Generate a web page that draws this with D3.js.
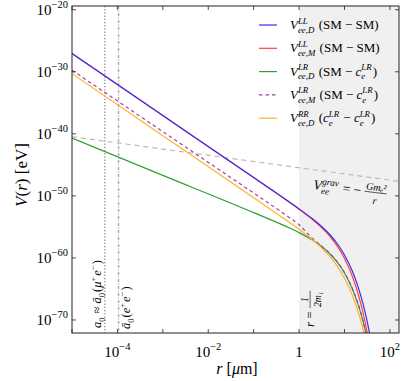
<!DOCTYPE html>
<meta charset="utf-8">
<style>
  body { margin: 0; background: #fff; }
  text { font-family: "Liberation Serif", "Times New Roman", serif; fill: #000; white-space: pre; }
</style>
<svg id="chart" width="407" height="381"></svg>
<script src="https://d3js.org/d3.v7.min.js"></script>
<script>

// r in micrometres, potentials given as log10(V / eV)
var rPts = [1e-5, 1e-3, 1e-1, 0.5, 1, 2, 3, 5, 7, 10, 15, 20, 25, 30, 35, 40]
var vDLL = [-27.05, -37.05, -47.05, -50.56, -52.10, -53.74, -54.82, -56.43, -57.76, -59.52, -62.19, -64.70, -67.13, -69.52, -71.86, -74.19]
var vMLL = [-27.05, -37.05, -47.05, -50.58, -52.16, -53.86, -55.00, -56.71, -58.15, -60.08, -63.03, -65.82, -68.53, -71.21, -73.83, -76.44]
var vDLR = [-40.70, -46.70, -52.70, -54.88, -55.92, -57.16, -58.05, -59.49, -60.73, -62.43, -65.05, -67.53, -69.95, -72.32, -74.66, -76.98]
var vMLR = [-29.75, -39.65, -49.55, -53.05, -54.65, -56.90, -58.00, -59.45, -60.68, -62.38, -65.00, -67.45, -69.88, -72.25, -74.60, -76.92]
var vDRR = [-30.30, -40.30, -50.30, -53.82, -55.39, -57.10, -58.24, -59.97, -61.39, -63.27, -66.08, -68.70, -71.22, -73.68, -76.08, -78.50]

var gravR = [1e-5, 158.5]
var gravV = [-40.46, -47.66]

var xTicks = [1e-5, 1e-4, 1e-3, 1e-2, 1e-1, 1, 10, 100]
var xLabels = [null, ["10", "\u22124"], null, ["10", "\u22122"], null, ["1", ""], null, ["10", "2"]]
var yTicks = [-20, -30, -40, -50, -60, -70]

var a0Mu = 5.3e-5, a0Ee = 1.06e-4, rMass = 1

var mL = 72, mR = 399, mT = 6, mB = 333

var svg = d3.select("#chart")

var x = d3.scaleLog().domain([1e-5, Math.pow(10, 2.2)]).range([mL, mR])
var y = d3.scaleLog().domain([Math.pow(10, -72.1), Math.pow(10, -19.4)]).range([mB, mT])

svg.append("defs").append("clipPath").attr("id", "clip")
  .append("rect").attr("x", mL).attr("y", mT).attr("width", mR - mL).attr("height", mB - mT)

// shaded region r > 1/(2 m1)
svg.append("rect")
  .attr("x", x(rMass)).attr("y", mT)
  .attr("width", mR - x(rMass)).attr("height", mB - mT)
  .attr("fill", "#f0f0f0")

var plot = svg.append("g").attr("clip-path", "url(#clip)")

plot.append("line")
  .attr("x1", x(a0Mu)).attr("x2", x(a0Mu)).attr("y1", mT).attr("y2", mB)
  .attr("stroke", "#333").attr("stroke-width", 0.8).attr("stroke-dasharray", "1.2,2")
plot.append("line")
  .attr("x1", x(a0Ee)).attr("x2", x(a0Ee)).attr("y1", mT).attr("y2", mB)
  .attr("stroke", "#aaa").attr("stroke-width", 1.4).attr("stroke-dasharray", "3,1.5,1,1.5")

var line = d3.line()
  .x(function(d) { return x(d[0]) })
  .y(function(d) { return y(Math.pow(10, d[1])) })
  .curve(d3.curveMonotoneX)

plot.append("path")
  .attr("d", line(d3.zip(gravR, gravV)))
  .attr("fill", "none").attr("stroke", "#bbbbbb").attr("stroke-width", 1.2)
  .attr("stroke-dasharray", "5,4")

var series = [
  {v: vMLL, color: "#ff4040", dash: null},
  {v: vDLL, color: "#3a2cf0", dash: null},
  {v: vDLR, color: "#2ea02e", dash: null},
  {v: vMLR, color: "#a040a8", dash: "3.5,3"},
  {v: vDRR, color: "#ffb22a", dash: null}
]
series.forEach(function(s) {
  plot.append("path")
    .attr("d", line(d3.zip(rPts, s.v)))
    .attr("fill", "none").attr("stroke", s.color).attr("stroke-width", 1.2)
    .attr("stroke-dasharray", s.dash)
})

// small helper for math-like labels: parts are plain runs or stacked sup/sub
function mathText(g, x0, y0, parts, size) {
  var cx = x0
  parts.forEach(function(p) {
    if (p.sup !== undefined || p.sub !== undefined) {
      var w = 0
      if (p.sup) {
        var t1 = g.append("text").attr("x", cx).attr("y", y0 - size * 0.42)
          .style("font-size", (size * 0.68) + "px").style("font-style", p.up ? "normal" : "italic").text(p.sup)
        w = Math.max(w, t1.node().getComputedTextLength())
      }
      if (p.sub) {
        var t2 = g.append("text").attr("x", cx).attr("y", y0 + size * 0.28)
          .style("font-size", (size * 0.68) + "px").style("font-style", p.up ? "normal" : "italic").text(p.sub)
        w = Math.max(w, t2.node().getComputedTextLength())
      }
      cx += w + 1
    } else if (p.frac) {
      var fs = size * 0.75
      var n = g.append("text").attr("y", y0 - size * 0.45).style("font-size", fs + "px")
        .style("font-style", "italic").text(p.frac[0])
      var dd = g.append("text").attr("y", y0 + size * 0.55).style("font-size", fs + "px")
        .style("font-style", "italic").text(p.frac[1])
      var wn = n.node().getComputedTextLength(), wd = dd.node().getComputedTextLength()
      var fw = Math.max(wn, wd) + 2
      n.attr("x", cx + (fw - wn) / 2)
      dd.attr("x", cx + (fw - wd) / 2)
      g.append("line").attr("x1", cx).attr("x2", cx + fw)
        .attr("y1", y0 - size * 0.3).attr("y2", y0 - size * 0.3)
        .attr("stroke", "#000").attr("stroke-width", 0.6)
      cx += fw + 1
    } else {
      var t = g.append("text").attr("x", cx).attr("y", y0)
        .style("font-size", size + "px").style("font-style", p.it ? "italic" : "normal").text(p.t)
      cx += t.node().getComputedTextLength()
    }
  })
  return cx
}

// vertical annotations
var gA = svg.append("g").attr("transform", "translate(101," + (mB - 5) + ") rotate(-90)")
mathText(gA, 0, 0, [{t: "a", it: true}, {sub: "0", up: true}, {t: " \u2248 "}, {t: "\u0101", it: true}, {sub: "0", up: true},
  {t: "("}, {t: "\u03bc", it: true}, {sup: "+", up: true}, {t: "e", it: true}, {sup: "\u2212", up: true}, {t: ")"}], 12.5)
var gB = svg.append("g").attr("transform", "translate(130," + (mB - 4) + ") rotate(-90)")
mathText(gB, 0, 0, [{t: "\u0101", it: true}, {sub: "0", up: true},
  {t: "("}, {t: "e", it: true}, {sup: "+", up: true}, {t: "e", it: true}, {sup: "\u2212", up: true}, {t: ")"}], 12.5)
var gC = svg.append("g").attr("transform", "translate(314," + (mB - 6) + ") rotate(-90)")
mathText(gC, 0, 0, [{t: "r", it: true}, {t: " = "}, {frac: ["1", "2m\u2081"]}], 13)

// gravity label, tilted along the dashed line
var gG = svg.append("g").attr("transform", "translate(313,189) rotate(7)")
mathText(gG, 0, 0, [{t: "V", it: true}, {sup: "grav", sub: "ee"}, {t: " = \u2212 "}, {frac: ["Gm\u2091\u00b2", "r"]}], 13.5)

// legend
var legend = [
  {color: "#3a2cf0", dash: null, parts: [{t: "V", it: true}, {sup: "LL", sub: "ee,D"}, {t: " (SM \u2212 SM)"}]},
  {color: "#ff4040", dash: null, parts: [{t: "V", it: true}, {sup: "LL", sub: "ee,M"}, {t: " (SM \u2212 SM)"}]},
  {color: "#2ea02e", dash: null, parts: [{t: "V", it: true}, {sup: "LR", sub: "ee,D"}, {t: " (SM \u2212 "}, {t: "c", it: true}, {sup: "LR", sub: "e"}, {t: ")"}]},
  {color: "#a040a8", dash: "3.5,3", parts: [{t: "V", it: true}, {sup: "LR", sub: "ee,M"}, {t: " (SM \u2212 "}, {t: "c", it: true}, {sup: "LR", sub: "e"}, {t: ")"}]},
  {color: "#ffb22a", dash: null, parts: [{t: "V", it: true}, {sup: "RR", sub: "ee,D"}, {t: " ("}, {t: "c", it: true}, {sup: "LR", sub: "e"}, {t: " \u2212 "}, {t: "c", it: true}, {sup: "LR", sub: "e"}, {t: ")"}]}
]
legend.forEach(function(l, i) {
  var ly = 25 + i * 23.3
  svg.append("line").attr("x1", 259).attr("x2", 277).attr("y1", ly).attr("y2", ly)
    .attr("stroke", l.color).attr("stroke-width", 1.2).attr("stroke-dasharray", l.dash)
  mathText(svg.append("g"), 290, ly + 4, l.parts, 13)
})

// frame and ticks
svg.append("rect").attr("x", mL).attr("y", mT).attr("width", mR - mL).attr("height", mB - mT)
  .attr("fill", "none").attr("stroke", "#222").attr("stroke-width", 1)

var ticks = svg.append("g").attr("stroke", "#222").attr("stroke-width", 0.8)
xTicks.forEach(function(t) {
  ticks.append("line").attr("x1", x(t)).attr("x2", x(t)).attr("y1", mB).attr("y2", mB - 4)
  ticks.append("line").attr("x1", x(t)).attr("x2", x(t)).attr("y1", mT).attr("y2", mT + 4)
})
yTicks.forEach(function(t) {
  var yy = y(Math.pow(10, t))
  ticks.append("line").attr("x1", mL).attr("x2", mL + 4).attr("y1", yy).attr("y2", yy)
  ticks.append("line").attr("x1", mR).attr("x2", mR - 4).attr("y1", yy).attr("y2", yy)
})

xTicks.forEach(function(t, i) {
  var lab = xLabels[i]
  if (!lab) return
  var tx = svg.append("text").attr("x", x(t)).attr("y", mB + 24)
    .attr("text-anchor", "middle").style("font-size", "15px")
  tx.append("tspan").text(lab[0])
  if (lab[1]) tx.append("tspan").attr("dy", -7).style("font-size", "10.5px").text(lab[1])
})
yTicks.forEach(function(t) {
  var tx = svg.append("text").attr("x", 68).attr("y", y(Math.pow(10, t)) + 5)
    .attr("text-anchor", "end").style("font-size", "15px")
  tx.append("tspan").text("10")
  tx.append("tspan").attr("dy", -7).style("font-size", "10.5px").text("\u2212" + (-t))
})

// axis titles
var xt = svg.append("text").attr("x", 237).attr("y", 374).attr("text-anchor", "middle").style("font-size", "16px")
xt.append("tspan").style("font-style", "italic").text("r")
xt.append("tspan").text(" [")
xt.append("tspan").style("font-style", "italic").text("\u03bc")
xt.append("tspan").text("m]")

var yt = svg.append("text").attr("transform", "translate(27,175) rotate(-90)")
  .attr("text-anchor", "middle").style("font-size", "17px")
yt.append("tspan").style("font-style", "italic").text("V")
yt.append("tspan").text("(")
yt.append("tspan").style("font-style", "italic").text("r")
yt.append("tspan").text(") [eV]")

</script>
